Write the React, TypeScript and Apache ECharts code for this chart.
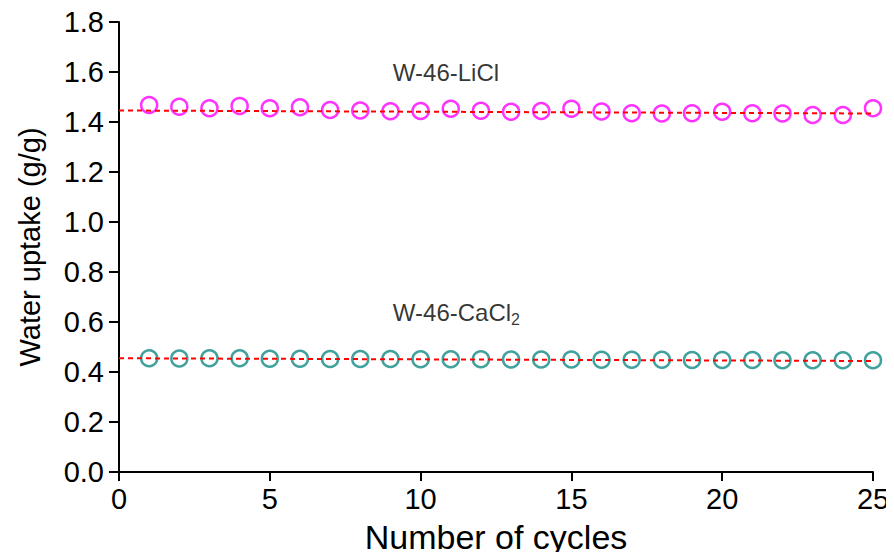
import React, { useEffect, useRef } from "react";
import * as echarts from "echarts";

const cycles = [1, 2, 3, 4, 5, 6, 7, 8, 9, 10, 11, 12, 13, 14, 15, 16, 17, 18, 19, 20, 21, 22, 23, 24, 25];
const liclUptake = [1.468, 1.461, 1.455, 1.464, 1.455, 1.459, 1.448, 1.446, 1.443, 1.444, 1.453, 1.445, 1.441, 1.444, 1.453, 1.442, 1.435, 1.434, 1.435, 1.441, 1.435, 1.434, 1.428, 1.428, 1.455];
const cacl2Uptake = [0.455, 0.454, 0.455, 0.455, 0.453, 0.453, 0.452, 0.452, 0.452, 0.451, 0.451, 0.451, 0.450, 0.450, 0.450, 0.449, 0.449, 0.449, 0.448, 0.448, 0.448, 0.447, 0.447, 0.447, 0.447];
const liclFit = [[0, 1.446], [25, 1.434]];
const cacl2Fit = [[0, 0.455], [25, 0.444]];
const labels = [
  { x: 9.08, y: 1.6, text: "W-46-LiCl" },
  { x: 9.08, y: 0.64, text: "{a|W-46-CaCl}{s|2}" },
];

const FONT = "'Liberation Sans', Arial, sans-serif";

export default function App() {
  const ref = useRef<HTMLDivElement>(null);
  useEffect(() => {
    if (!ref.current) return;
    const chart = echarts.init(ref.current, null, { renderer: "svg" });
    const axisLine = { show: true, lineStyle: { color: "#000", width: 2 } };
    chart.setOption({
      animation: false,
      backgroundColor: "#fff",
      grid: { left: 119, right: 21, top: 22, bottom: 88 },
      xAxis: {
        type: "value",
        min: 0,
        max: 25,
        interval: 5,
        name: "Number of cycles",
        nameLocation: "middle",
        nameGap: 48,
        nameTextStyle: { fontFamily: FONT, fontSize: 34, color: "#000" },
        axisLine,
        axisTick: { show: true, length: 9, lineStyle: { color: "#000", width: 2 } },
        axisLabel: { fontFamily: FONT, fontSize: 29, color: "#000", margin: 12 },
        splitLine: { show: false },
      },
      yAxis: {
        type: "value",
        min: 0,
        max: 1.8,
        interval: 0.2,
        name: "Water uptake (g/g)",
        nameLocation: "middle",
        nameGap: 75,
        nameTextStyle: { fontFamily: FONT, fontSize: 29, color: "#000" },
        axisLine,
        axisTick: { show: true, length: 10, lineStyle: { color: "#000", width: 2 } },
        axisLabel: {
          fontFamily: FONT,
          fontSize: 29,
          color: "#000",
          margin: 15,
          formatter: (v: number) => v.toFixed(1),
        },
        splitLine: { show: false },
      },
      series: [
        {
          type: "scatter",
          data: cycles.map((c, i) => [c, liclUptake[i]]),
          symbol: "circle",
          symbolSize: 16,
          itemStyle: { color: "transparent", borderColor: "#FF00FF", borderWidth: 2.5 },
          z: 2,
        },
        {
          type: "scatter",
          data: cycles.map((c, i) => [c, cacl2Uptake[i]]),
          symbol: "circle",
          symbolSize: 16,
          itemStyle: { color: "transparent", borderColor: "#108A84", borderWidth: 2.5 },
          z: 2,
        },
        {
          type: "line",
          data: liclFit,
          showSymbol: false,
          lineStyle: { color: "#FF0000", width: 2, type: [5, 4] },
          z: 3,
        },
        {
          type: "line",
          data: cacl2Fit,
          showSymbol: false,
          lineStyle: { color: "#FF0000", width: 2, type: [5, 4] },
          z: 3,
        },
        {
          type: "scatter",
          data: labels.map((l) => ({ value: [l.x, l.y], label: { formatter: l.text } })),
          symbolSize: 0,
          silent: true,
          label: {
            show: true,
            position: "right",
            distance: 0,
            fontFamily: FONT,
            fontSize: 24,
            color: "#000",
            rich: {
              a: { fontFamily: FONT, fontSize: 24, color: "#000" },
              s: { fontFamily: FONT, fontSize: 16, color: "#000", padding: [14, 0, 0, 0] },
            },
          },
        },
      ],
    });
    return () => chart.dispose();
  }, []);
  return <div ref={ref} style={{ width: 894, height: 560, margin: -8 }} />;
}
